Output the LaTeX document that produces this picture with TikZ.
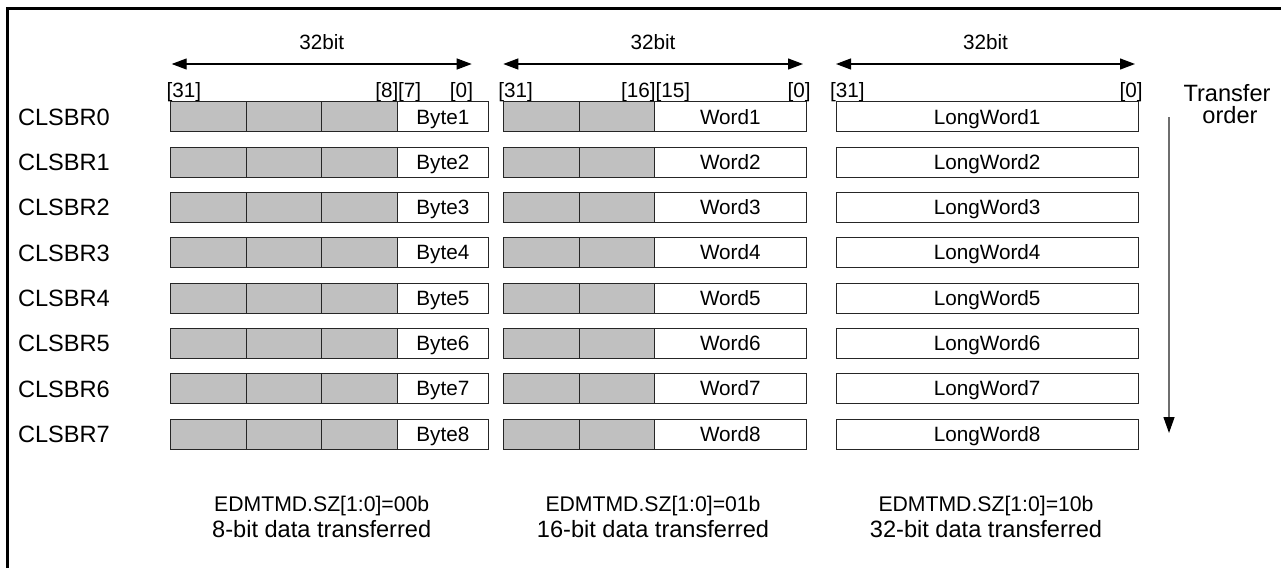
\documentclass[tikz,border=0pt]{standalone}
\usepackage{fontspec}
\setmainfont{Liberation Sans}
\usetikzlibrary{arrows.meta}
\definecolor{cellgray}{RGB}{192,192,192}
\definecolor{arrgray}{RGB}{110,110,110}
\begin{document}
\begin{tikzpicture}[x=1pt,y=-1pt,
  small/.style={font=\fontsize{20.7}{24}\selectfont, inner sep=0pt, outer sep=0pt},
  big/.style={font=\fontsize{23.6}{21.6}\selectfont, inner sep=0pt, outer sep=0pt},
  cell/.style={small, draw=black!85, line width=0.9pt, minimum height=30pt, anchor=north west, text height=15pt, text depth=0.4pt},
  gcell/.style={cell, fill=cellgray, minimum width=75.6pt},
  wcell/.style={cell, fill=white},
  dimarrow/.style={line width=1.2pt, {Triangle[length=15pt,width=11pt]}-{Triangle[length=15pt,width=11pt]}},
  orderarrow/.style={draw=arrgray, line width=1.2pt, -{Triangle[length=16pt,width=11pt,color=black,fill=black]}}
]
\useasboundingbox (0,0) rectangle (1281,568);
\fill[white] (0,0) rectangle (1281,568);
% frame
\draw[line width=3pt] (7.5,568) -- (7.5,8.5) -- (1281,8.5);

% width arrows
\coordinate (bl) at (171.7,64);
\coordinate (br) at (471.7,64);
\coordinate (wl) at (503.3,64);
\coordinate (wr) at (803,64);
\coordinate (ll) at (836,64);
\coordinate (lr) at (1135,64);
\draw[dimarrow] (bl) -- (br);
\draw[dimarrow] (wl) -- (wr);
\draw[dimarrow] (ll) -- (lr);
\node[small, anchor=base] (bw) at (321.7,49) {32bit};
\node[small, anchor=base] (ww) at (653,49) {32bit};
\node[small, anchor=base] (lw) at (985.5,49) {32bit};

% bit labels
\node[small, anchor=base west] (b31) at (166.7,97.7) {[31]};
\node[small, anchor=base east] (b8) at (398.3,97.7) {[8]};
\node[small, anchor=base west] (b7) at (398.0,97.7) {[7]};
\node[small, anchor=base east] (b0) at (473,97.7) {[0]};
\node[small, anchor=base west] (w31) at (498.3,97.7) {[31]};
\node[small, anchor=base east] (w16) at (655.7,97.7) {[16]};
\node[small, anchor=base west] (w15) at (655.5,97.7) {[15]};
\node[small, anchor=base east] (w0) at (810.7,97.7) {[0]};
\node[small, anchor=base west] (l31) at (830,97.7) {[31]};
\node[small, anchor=base east] (l0) at (1142.7,97.7) {[0]};

% transfer order
\node[big, anchor=base, align=center] (to1) at (1227,101.7) {Transfer};
\node[big, anchor=base] (to2) at (1230,123.3) {order};
\coordinate (oa) at (1169,117);
\coordinate (ob) at (1169,433);
\draw[orderarrow] (oa) -- (ob);

% rows
\foreach \i [evaluate=\i as \yt using 101.7+45.33*\i, evaluate=\i as \n using int(\i+1)] in {0,...,7} {
  \node[big, anchor=base west] (r\i) at (18,\yt+23.4) {CLSBR\i};
  \node[gcell] (b\i a) at (170.7,\yt) {};
  \node[gcell] (b\i b) at (246.3,\yt) {};
  \node[gcell] (b\i c) at (321.9,\yt) {};
  \node[wcell, minimum width=90.8pt] (b\i d) at (397.5,\yt) {Byte\n};
  \node[gcell, minimum width=75.7pt] (w\i a) at (503.3,\yt) {};
  \node[gcell, minimum width=75.7pt] (w\i b) at (579,\yt) {};
  \node[wcell, minimum width=151.3pt] (w\i c) at (654.7,\yt) {Word\n};
  \node[wcell, minimum width=302.3pt] (l\i) at (836,\yt) {LongWord\n};
}

% captions
\node[small, font=\fontsize{21.2}{24}\selectfont, anchor=base] (c1a) at (321.7,511) {EDMTMD.SZ[1:0]=00b};
\node[big, anchor=base] (c1b) at (321.7,537.3) {8-bit data transferred};
\node[small, font=\fontsize{21.2}{24}\selectfont, anchor=base] (c2a) at (653,511) {EDMTMD.SZ[1:0]=01b};
\node[big, anchor=base] (c2b) at (653,537.3) {16-bit data transferred};
\node[small, font=\fontsize{21.2}{24}\selectfont, anchor=base] (c3a) at (986,511) {EDMTMD.SZ[1:0]=10b};
\node[big, anchor=base] (c3b) at (986,537.3) {32-bit data transferred};
\end{tikzpicture}
\end{document}
